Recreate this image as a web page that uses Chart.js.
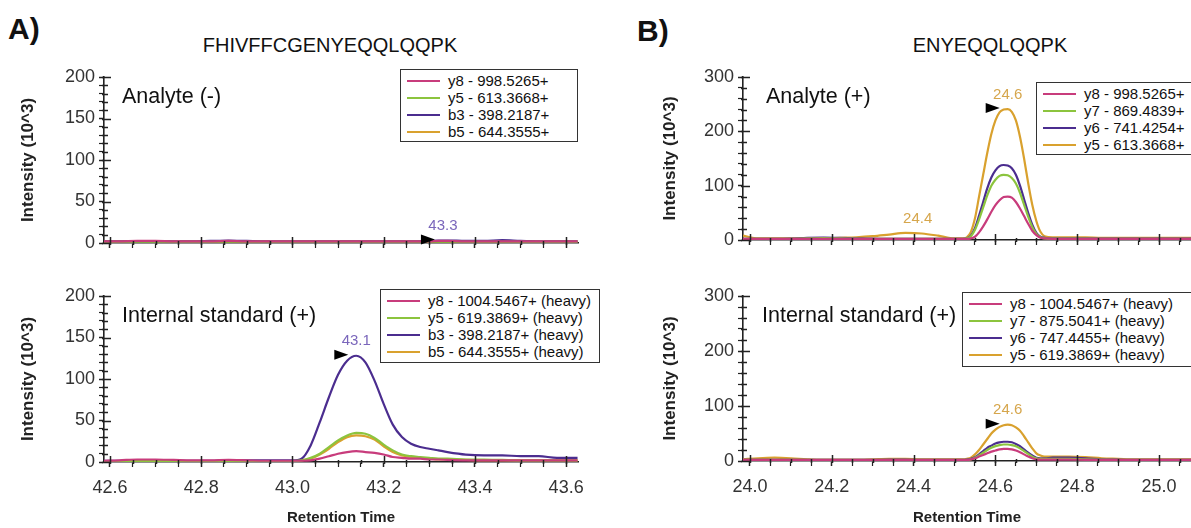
<!DOCTYPE html>
<html>
<head>
<meta charset="utf-8">
<script src="https://cdn.jsdelivr.net/npm/chart.js@4.4.1/dist/chart.umd.min.js"></script>
<style>
  html, body { margin: 0; padding: 0; background: #fff; }
  body { width: 1191px; height: 528px; position: relative; overflow: hidden;
         font-family: "Liberation Sans", Arial, sans-serif; color: #111; }
  .box { position: absolute; }
  .panel-tag { position: absolute; font-weight: bold; font-size: 30px; }
  .peptide { position: absolute; font-size: 20px; text-align: center; width: 400px; }
  .inset { position: absolute; font-size: 21.5px; }
  .legend { position: absolute; border: 1.5px solid #333; background: #fff;
            font-size: 15px; padding: 2px 0 2px 6px; box-sizing: border-box; }
  .legend div { height: 17px; line-height: 17px; white-space: nowrap; }
  .legend span.sw { display: inline-block; width: 33px; height: 2.5px; vertical-align: middle;
                    margin-right: 8px; position: relative; top: -1px; }
</style>
</head>
<body>

<div class="panel-tag" style="left:8px; top:12px;">A)</div>
<div class="panel-tag" style="left:637px; top:14px;">B)</div>
<div class="peptide" style="left:130px; top:34px;">FHIVFFCGENYEQQLQQPK</div>
<div class="peptide" style="left:790px; top:34px;">ENYEQQLQQPK</div>

<div class="box" id="boxA1"><canvas id="chartA1"></canvas></div>
<div class="box" id="boxA2"><canvas id="chartA2"></canvas></div>
<div class="box" id="boxB1"><canvas id="chartB1"></canvas></div>
<div class="box" id="boxB2"><canvas id="chartB2"></canvas></div>

<div class="inset" style="left:122px; top:84px;">Analyte (-)</div>
<div class="inset" style="left:122px; top:303px;">Internal standard (+)</div>
<div class="inset" style="left:766px; top:84px;">Analyte (+)</div>
<div class="inset" style="left:762px; top:303px;">Internal standard (+)</div>

<div class="legend" id="legA1" style="left:400px; top:69px; width:178px; height:73px;"></div>
<div class="legend" id="legA2" style="left:380px; top:289px; width:220px; height:74px;"></div>
<div class="legend" id="legB1" style="left:1036px; top:82px; width:160px; height:73px;"></div>
<div class="legend" id="legB2" style="left:962px; top:292px; width:240px; height:75px;"></div>

<script>
/**************************************************************
 * 1. Data (intensity in 10^3)
 **************************************************************/
// Panel A: FHIVFFCGENYEQQLQQPK
const aTime = [42.585, 42.62, 42.66, 42.70, 42.74, 42.78, 42.82, 42.86, 42.90, 42.94,
               42.98, 43.00, 43.02, 43.04, 43.06, 43.08, 43.10, 43.12, 43.14, 43.16,
               43.18, 43.20, 43.22, 43.24, 43.26, 43.28, 43.30, 43.32, 43.34, 43.38,
               43.42, 43.46, 43.50, 43.54, 43.58, 43.625];

// Analyte (-)
const aTopY8 = [2, 2, 2.5, 2.5, 2, 2, 2, 2.5, 2, 2, 2, 2, 2, 2, 2, 2, 2, 2, 2, 2,
                2, 2, 2, 2, 2, 2, 2, 2.5, 2.5, 2, 2, 2, 2, 2, 2, 2];
const aTopY5 = [1.5, 1.5, 1.5, 1.5, 1.5, 1.5, 1.5, 1.5, 1.5, 1.5, 1.5, 1.5, 1.5, 1.5, 1.5, 1.5, 1.5, 1.5, 1.5, 1.5,
                1.5, 1.5, 1.5, 1.5, 1.5, 1.5, 1.5, 1.5, 1.5, 1.5, 1.5, 1.5, 1.5, 1.5, 1.5, 1.5];
const aTopB3 = [2, 2, 2, 2, 2, 2, 2.5, 3, 2.5, 2, 2, 2, 2, 2, 2, 2, 2, 2, 2, 2,
                2, 2, 2, 2, 2, 2, 2.5, 3, 3, 2.5, 2.5, 3.5, 2.5, 2, 2, 2];
const aTopB5 = [2, 2, 2, 2, 2, 2, 2, 2, 2, 2, 2, 2, 2, 2, 2, 2, 2, 2, 2, 2,
                2, 2, 2, 2, 2, 2, 2, 2, 2, 2, 2, 2, 2, 2, 2, 2];

// Internal standard (+)
const aBotY8 = [1.5, 2, 3, 3, 2.5, 2, 2, 2.5, 2, 1.5, 1.5, 1.5, 1.5, 2, 4, 7, 10, 12, 13, 12,
                11, 9, 6, 5, 4, 4, 3, 3, 2.5, 2, 2, 2, 2, 2, 2, 2];
const aBotY5 = [1, 1, 1, 1, 1, 1, 1, 1, 1, 1, 1, 1, 2, 5, 10, 18, 26, 32, 35, 34,
                29, 21, 14, 9, 7, 6, 5, 4, 4, 3, 3, 2.5, 2, 2, 2, 2];
const aBotB3 = [1.5, 1.5, 1.5, 1.5, 1.5, 1.5, 1.5, 2, 2, 2, 2, 2, 4, 20, 48, 78, 105, 122, 128, 120,
                98, 70, 45, 30, 22, 18, 16, 14, 12, 9, 8, 8, 7, 7, 5, 5];
const aBotB5 = [1, 1, 1, 1, 1, 1, 1, 1, 1, 1, 1, 1, 2, 4, 9, 16, 24, 30, 32, 31,
                27, 19, 12, 8, 6, 5, 4, 3, 3, 2.5, 2, 2, 2, 2, 2, 2];

// Panel B: ENYEQQLQQPK
const bTime = [23.983, 24.02, 24.06, 24.10, 24.14, 24.18, 24.22, 24.26, 24.30, 24.34,
               24.38, 24.42, 24.46, 24.50, 24.52, 24.53, 24.54, 24.55, 24.56, 24.57,
               24.58, 24.59, 24.60, 24.61, 24.62, 24.63, 24.64, 24.65, 24.66, 24.67,
               24.68, 24.69, 24.70, 24.71, 24.72, 24.74, 24.78, 24.82, 24.86, 24.90,
               24.94, 24.98, 25.02, 25.06, 25.078];

// Analyte (+)
const bTopY8 = [2, 2, 2, 2, 2, 2, 2, 2, 2, 2, 2, 2, 2, 2, 2, 2, 3, 6, 14, 25,
                38, 52, 64, 73, 79, 80, 78, 70, 58, 44, 30, 17, 9, 4, 3, 2, 2, 2, 2, 2,
                2, 2, 2, 2, 2];
const bTopY7 = [2, 2, 2, 2, 3, 3.5, 3, 2.5, 2, 2, 2, 2, 2, 2, 2, 3, 7, 19, 38, 60,
                82, 100, 111, 118, 120, 119, 114, 104, 87, 65, 43, 24, 11, 5, 3, 2.5, 2.5, 2.5, 2, 2,
                2, 2, 2, 2, 2];
const bTopY6 = [2, 2, 2, 2.5, 4, 4.5, 4, 3, 2.5, 2, 2, 2, 2, 2, 2, 3, 8, 22, 45, 70,
                95, 115, 128, 136, 138, 137, 132, 120, 100, 75, 50, 28, 13, 6, 4, 3, 3, 3, 2.5, 2.5,
                2.5, 2.5, 2.5, 2.5, 2.5];
const bTopY5 = [8, 3, 3, 3, 3, 3, 4, 5, 7, 10, 13, 12, 8, 3, 3, 5, 15, 40, 80, 120,
                160, 195, 220, 235, 240, 241, 236, 220, 190, 150, 105, 65, 35, 15, 7, 5, 5, 5, 4, 4,
                4, 4, 4, 4, 4];

// Internal standard (+)
const bBotY8 = [2, 2, 2, 2, 2, 2, 2, 2, 2, 2, 2, 2, 2, 2, 2, 2, 3, 5, 8, 11,
                14, 17, 19, 21, 22, 22, 21, 19, 16, 12, 8, 5, 3, 2.5, 2.5, 2.5, 2.5, 2, 2, 2,
                2, 2, 2, 2, 2];
const bBotY7 = [2, 2, 2, 2, 2, 2, 2, 2, 2, 2, 2, 2, 2, 2, 2, 2, 3, 6, 10, 15,
                20, 24, 27, 29, 30, 30, 29, 27, 23, 18, 13, 8, 5, 4, 4, 4, 4, 3, 2.5, 2,
                2, 2, 2, 2, 2];
const bBotY6 = [2, 2, 2, 2, 2, 2, 2, 2, 2, 2.5, 2.5, 2, 2, 2, 2, 2.5, 4, 7, 12, 18,
                24, 28, 32, 34, 35, 35, 34, 31, 27, 21, 15, 10, 6, 5, 5, 6, 6, 5, 3, 2.5,
                2, 2, 2, 2, 2];
const bBotY5 = [3, 5, 6, 5, 3, 2, 2, 2, 3, 4, 4, 3, 3, 3, 3, 4, 6, 12, 20, 30,
                40, 50, 57, 62, 65, 66, 65, 61, 55, 45, 34, 23, 14, 10, 8, 8, 8, 7, 5, 4,
                3, 3, 3, 3, 3];

// Series names
const aTopNames = ["y8 - 998.5265+", "y5 - 613.3668+", "b3 - 398.2187+", "b5 - 644.3555+"];
const aBotNames = ["y8 - 1004.5467+ (heavy)", "y5 - 619.3869+ (heavy)", "b3 - 398.2187+ (heavy)", "b5 - 644.3555+ (heavy)"];
const bTopNames = ["y8 - 998.5265+", "y7 - 869.4839+", "y6 - 741.4254+", "y5 - 613.3668+"];
const bBotNames = ["y8 - 1004.5467+ (heavy)", "y7 - 875.5041+ (heavy)", "y6 - 747.4455+ (heavy)", "y5 - 619.3869+ (heavy)"];

// Tick values (labelled) and minor tick steps
const aXTicks = [42.6, 42.8, 43.0, 43.2, 43.4, 43.6];
const bXTicks = [24.0, 24.2, 24.4, 24.6, 24.8, 25.0];
const aYTicks = [0, 50, 100, 150, 200];
const bYTicks = [0, 100, 200, 300];
const X_MINOR = 0.05;

// Peak apex markers: [retention time, intensity, label]
const aTopPeaks = [[43.33, 3, "43.3"]];
const aBotPeaks = [[43.14, 128, "43.1"]];
const bTopPeaks = [[24.63, 241, "24.6"], [24.41, 13, "24.4"]];
const bBotPeaks = [[24.63, 66, "24.6"]];

/**************************************************************
 * 2. Styling
 **************************************************************/
const PINK = "#c83c7c";
const GREEN = "#8cc43e";
const PURPLE = "#4b2d8f";
const GOLD = "#d9a12e";
const FONT = "'Liberation Sans', Arial, sans-serif";

const isMajor = (list, v) => list.some(m => Math.abs(m - v) < 1e-6);

/**************************************************************
 * 3. Overlay: inner half of the tick marks + peak apex markers
 **************************************************************/
function makeOverlay(cfg) {
  return {
    id: "overlay" + cfg.key,
    afterDatasetsDraw(chart) {
      const ctx = chart.ctx;
      const area = chart.chartArea;
      const xs = chart.scales.x, ys = chart.scales.y;
      ctx.save();

      ctx.strokeStyle = "#222";
      ctx.lineWidth = 1.5;
      ctx.beginPath();
      xs.ticks.forEach(t => {
        const px = Math.round(xs.getPixelForValue(t.value)) + 0.5;
        ctx.moveTo(px, area.bottom + 2);
        ctx.lineTo(px, area.bottom - (isMajor(cfg.xTicks, t.value) ? 6 : 2));
      });
      ys.ticks.forEach(t => {
        const py = Math.round(ys.getPixelForValue(t.value)) + 0.5;
        ctx.moveTo(area.left - 2, py);
        ctx.lineTo(area.left + (isMajor(cfg.yTicks, t.value) ? 7 : 4), py);
      });
      ctx.stroke();

      cfg.peaks.forEach(([t, v, label], i) => {
        const px = xs.getPixelForValue(t);
        const py = ys.getPixelForValue(v);
        if (i === 0) {
          ctx.fillStyle = "#000";
          ctx.beginPath();
          ctx.moveTo(px - 8, py - 1);
          ctx.lineTo(px - 22, py - 6);
          ctx.lineTo(px - 22, py + 4);
          ctx.closePath();
          ctx.fill();
        }
        ctx.fillStyle = cfg.peakColor;
        ctx.font = "15px " + FONT;
        ctx.textAlign = "center";
        ctx.textBaseline = "bottom";
        ctx.fillText(label, px, py - 7);
      });
      ctx.restore();
    }
  };
}

/**************************************************************
 * 4. Chart builder
 **************************************************************/
function makeDatasets(time, series) {
  const colors = [PINK, GREEN, PURPLE, GOLD];
  return series.map((vals, i) => ({
    data: time.map((t, j) => ({ x: t, y: vals[j] })),
    borderColor: colors[i],
    borderWidth: 2.2,
    pointRadius: 0,
    tension: 0.35,
    cubicInterpolationMode: "monotone",
    fill: false
  }));
}

// every multiple of step between min and max
function stepTicks(min, max, step) {
  const out = [];
  const n0 = Math.ceil(min / step - 1e-6), n1 = Math.floor(max / step + 1e-6);
  for (let n = n0; n <= n1; n++) out.push({ value: +(n * step).toFixed(4) });
  return out;
}

// box = canvas container, area = wanted chart area (page pixels)
function buildChart(id, box, area, cfg) {
  const holder = document.getElementById("box" + id);
  holder.style.left = box.x + "px";
  holder.style.top = box.y + "px";
  holder.style.width = box.w + "px";
  holder.style.height = box.h + "px";

  const yWidth = area.l - box.x;
  const xHeight = box.y + box.h - area.b;
  const yMax = cfg.yTicks[cfg.yTicks.length - 1];
  cfg.key = id;

  return new Chart(document.getElementById("chart" + id), {
    type: "line",
    data: { datasets: makeDatasets(cfg.time, cfg.series) },
    options: {
      responsive: true,
      maintainAspectRatio: false,
      animation: false,
      events: [],
      layout: { padding: { top: area.t - box.y, right: box.x + box.w - area.r, left: 0, bottom: 0 } },
      scales: {
        x: {
          type: "linear",
          min: cfg.xMin,
          max: cfg.xMax,
          afterBuildTicks: s => { s.ticks = stepTicks(cfg.xMin, cfg.xMax, X_MINOR); },
          afterFit: s => { s.height = xHeight; },
          grid: {
            display: true, drawOnChartArea: false, drawTicks: true,
            tickLength: 5, tickColor: "#222",
            tickWidth: c => (c.tick && isMajor(cfg.xTicks, c.tick.value) ? 1.5 : 1.2)
          },
          border: { display: true, color: "#222", width: 1.6 },
          ticks: {
            display: cfg.showX,
            padding: 10,
            maxRotation: 0,
            autoSkip: false,
            color: "#333",
            font: { size: 18, family: FONT },
            callback: v => (isMajor(cfg.xTicks, v) ? Number(v).toFixed(1) : "")
          },
          title: {
            display: cfg.showX,
            text: "Retention Time",
            color: "#222",
            font: { size: 15, weight: "bold", family: FONT },
            padding: { top: 0, bottom: 1 }
          }
        },
        y: {
          min: 0,
          max: yMax,
          afterBuildTicks: s => { s.ticks = stepTicks(0, yMax, cfg.yMinor); },
          afterFit: s => { s.width = yWidth; },
          grid: {
            display: true, drawOnChartArea: false, drawTicks: true,
            tickLength: 5, tickColor: "#222",
            tickWidth: c => (c.tick && isMajor(cfg.yTicks, c.tick.value) ? 1.5 : 1.2)
          },
          border: { display: true, color: "#222", width: 1.6 },
          ticks: {
            padding: 4,
            autoSkip: false,
            color: "#333",
            font: { size: 18, family: FONT },
            callback: v => (isMajor(cfg.yTicks, v) ? v : "")
          },
          title: {
            display: true,
            text: "Intensity (10^3)",
            color: "#222",
            font: { size: 17, weight: "bold", family: FONT },
            padding: { top: cfg.titlePad, bottom: 0 }
          }
        }
      },
      plugins: {
        legend: { display: false },
        tooltip: { enabled: false }
      }
    },
    plugins: [makeOverlay(cfg)]
  });
}

function fillLegend(id, names) {
  const colors = [PINK, GREEN, PURPLE, GOLD];
  document.getElementById(id).innerHTML = names
    .map((n, i) => `<div><span class="sw" style="background:${colors[i]}"></span>${n}</div>`)
    .join("");
}

/**************************************************************
 * 5. Render the four panels
 **************************************************************/
buildChart("A1", { x: 0, y: 60, w: 600, h: 200 }, { l: 104, t: 77, r: 578, b: 243 }, {
  time: aTime, series: [aTopY8, aTopY5, aTopB3, aTopB5],
  xMin: 42.587, xMax: 43.626, xTicks: aXTicks, yTicks: aYTicks, yMinor: 10,
  showX: false, titlePad: 18, peaks: aTopPeaks, peakColor: "#7a66bb"
});
buildChart("A2", { x: 0, y: 280, w: 600, h: 248 }, { l: 104, t: 296, r: 578, b: 462 }, {
  time: aTime, series: [aBotY8, aBotY5, aBotB3, aBotB5],
  xMin: 42.587, xMax: 43.626, xTicks: aXTicks, yTicks: aYTicks, yMinor: 10,
  showX: true, titlePad: 18, peaks: aBotPeaks, peakColor: "#7a66bb"
});
buildChart("B1", { x: 640, y: 60, w: 551, h: 200 }, { l: 743, t: 77, r: 1191, b: 240 }, {
  time: bTime, series: [bTopY8, bTopY7, bTopY6, bTopY5],
  xMin: 23.983, xMax: 25.078, xTicks: bXTicks, yTicks: bYTicks, yMinor: 20,
  showX: false, titlePad: 20, peaks: bTopPeaks, peakColor: "#d6a64c"
});
buildChart("B2", { x: 640, y: 280, w: 551, h: 248 }, { l: 743, t: 296, r: 1191, b: 461 }, {
  time: bTime, series: [bBotY8, bBotY7, bBotY6, bBotY5],
  xMin: 23.983, xMax: 25.078, xTicks: bXTicks, yTicks: bYTicks, yMinor: 20,
  showX: true, titlePad: 20, peaks: bBotPeaks, peakColor: "#d6a64c"
});

fillLegend("legA1", aTopNames);
fillLegend("legA2", aBotNames);
fillLegend("legB1", bTopNames);
fillLegend("legB2", bBotNames);
</script>
</body>
</html>
